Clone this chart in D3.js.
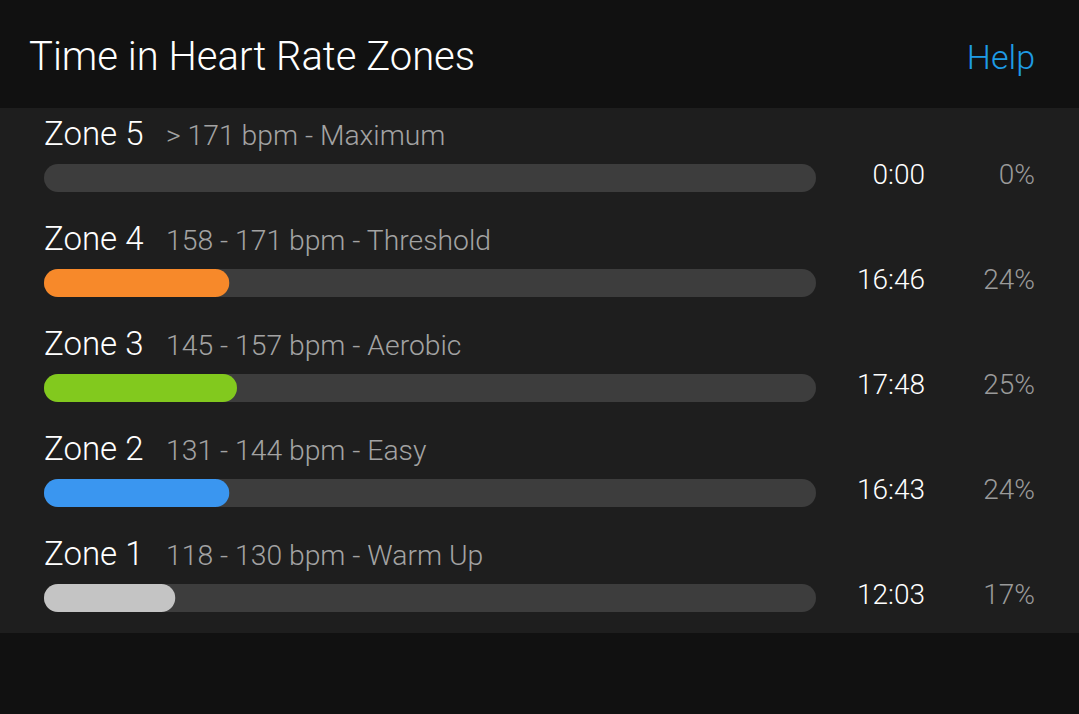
<!DOCTYPE html>
<html><head><meta charset="utf-8">
<script src="https://cdn.jsdelivr.net/npm/d3@7"></script>
<style>
html,body{margin:0;padding:0;background:#111111;}
svg{display:block;font-family:Roboto,"Noto Sans",sans-serif;font-weight:300;}
</style></head>
<body><svg id="c" width="1079" height="714"></svg>
<script>
const zones = ["Zone 5","Zone 4","Zone 3","Zone 2","Zone 1"];
const ranges = ["> 171 bpm - Maximum","158 - 171 bpm - Threshold","145 - 157 bpm - Aerobic","131 - 144 bpm - Easy","118 - 130 bpm - Warm Up"];
const times = ["0:00","16:46","17:48","16:43","12:03"];
const percents = [0,24,25,24,17];
const colors = ["#e8383d","#f7892a","#82c91e","#3a96f0","#c4c4c4"];

const svg = d3.select("#c");
const W = 1079, H = 714;
svg.append("rect").attr("width",W).attr("height",H).attr("fill","#111111");
svg.append("rect").attr("x",0).attr("y",108).attr("width",W).attr("height",525).attr("fill","#1e1e1e");

svg.append("text").attr("x",29).attr("y",70).attr("fill","#ffffff")
  .style("font-size","40px").text("Time in Heart Rate Zones");
svg.append("text").attr("x",1035).attr("y",69).attr("fill","#1e9be4")
  .attr("text-anchor","end").style("font-size","34px").text("Help");

const y = d3.scaleBand().domain(zones).range([112,637]).paddingInner(0).paddingOuter(0);
const x = d3.scaleLinear().domain([0,100]).range([44,816]);
const barH = 28;

const g = svg.selectAll("g.row").data(zones).join("g").attr("class","row")
  .attr("transform",d=>`translate(0,${y(d)})`);

g.append("text").attr("x",44).attr("y",33).attr("fill","#ffffff")
  .style("font-size","33px").text(d=>d);
g.append("text").attr("x",166).attr("y",33).attr("fill","#a3a3a3")
  .style("font-size","28.3px").text((d,i)=>ranges[i]);
g.append("rect").attr("x",x(0)).attr("y",52).attr("width",x(100)-x(0)).attr("height",barH)
  .attr("rx",barH/2).attr("fill","#3d3d3d");
g.filter((d,i)=>percents[i]>0).append("rect")
  .attr("x",x(0)).attr("y",52)
  .attr("width",d=>x(percents[zones.indexOf(d)])-x(0)).attr("height",barH)
  .attr("rx",barH/2).attr("fill",d=>colors[zones.indexOf(d)]);
g.append("text").attr("x",925).attr("y",72).attr("text-anchor","end").attr("fill","#ffffff")
  .style("font-size","28px").text((d,i)=>times[i]);
g.append("text").attr("x",1035).attr("y",72).attr("text-anchor","end").attr("fill","#9a9a9a")
  .style("font-size","28px").text((d,i)=>percents[i]+"%");
</script></body></html>
